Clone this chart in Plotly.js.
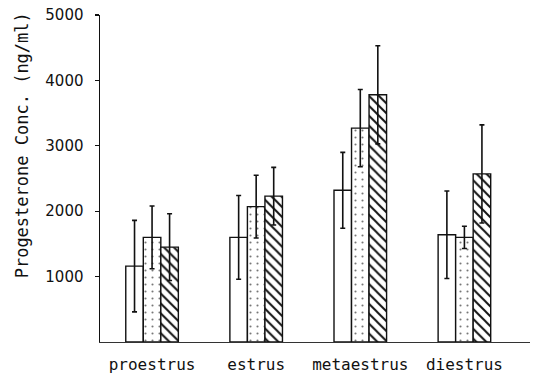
<!DOCTYPE html>
<html>
<head>
<meta charset="utf-8">
<script src="https://cdn.plot.ly/plotly-3.0.1.min.js"></script>
<style>body{margin:0;padding:0;background:#fff}</style>
</head>
<body>
<div id="chart" style="width:542px;height:378px"></div>
<script>
var categories = ['proestrus', 'estrus', 'metaestrus', 'diestrus'];
var openValues = [1160, 1600, 2320, 1640];
var openErrors = [700, 640, 580, 670];
var dottedValues = [1600, 2070, 3270, 1600];
var dottedErrors = [480, 480, 590, 170];
var hatchedValues = [1450, 2230, 3780, 2570];
var hatchedErrors = [510, 440, 750, 750];
var yTickValues = [1000, 2000, 3000, 4000, 5000];
var yTitle = 'Progesterone Conc. (ng/ml)';

function errStyle(arr) {
  return {type: 'data', array: arr, visible: true, color: '#111', thickness: 1.6, width: 2.5};
}
var lineStyle = {color: '#111', width: 1.4};

var traces = [
  {type: 'bar', x: categories, y: openValues, error_y: errStyle(openErrors),
   marker: {color: 'white', line: lineStyle}, showlegend: false},
  {type: 'bar', x: categories, y: dottedValues, error_y: errStyle(dottedErrors),
   marker: {color: 'white', line: lineStyle,
            pattern: {shape: '.', size: 7, solidity: 0.07, fgcolor: '#777', bgcolor: 'white', fillmode: 'replace'}},
   showlegend: false},
  {type: 'bar', x: categories, y: hatchedValues, error_y: errStyle(hatchedErrors),
   marker: {color: 'white', line: lineStyle,
            pattern: {shape: '\\', size: 7, solidity: 0.28, fgcolor: '#111', bgcolor: 'white', fillmode: 'replace'}},
   showlegend: false}
];

var layout = {
  width: 542, height: 378,
  margin: {l: 100, r: 12, t: 15, b: 36},
  paper_bgcolor: 'white', plot_bgcolor: 'white',
  barmode: 'group', bargap: 0.495, bargroupgap: 0,
  xaxis: {
    type: 'category', range: [-0.5, 3.63],
    showgrid: false, zeroline: false,
    showline: true, linecolor: '#333', linewidth: 1,
    ticks: '', ticklabelstandoff: 8,
    tickfont: {family: 'DejaVu Sans Mono', size: 16, color: '#111'}
  },
  yaxis: {
    range: [0, 5000], tickvals: yTickValues,
    showgrid: false, zeroline: false,
    showline: true, linecolor: '#111', linewidth: 1.5,
    ticks: 'outside', ticklen: 4, tickwidth: 1.2, tickcolor: '#111',
    ticklabelstandoff: 8,
    tickfont: {family: 'DejaVu Sans', size: 15, color: '#111'}
  },
  annotations: [{
    text: yTitle, xref: 'paper', yref: 'paper', x: -0.181, y: 0.602,
    xanchor: 'center', yanchor: 'middle', textangle: -90, showarrow: false,
    font: {family: 'DejaVu Sans Mono', size: 17, color: '#111'}
  }]
};

Plotly.newPlot('chart', traces, layout, {displayModeBar: false, staticPlot: true});
</script>
</body>
</html>
